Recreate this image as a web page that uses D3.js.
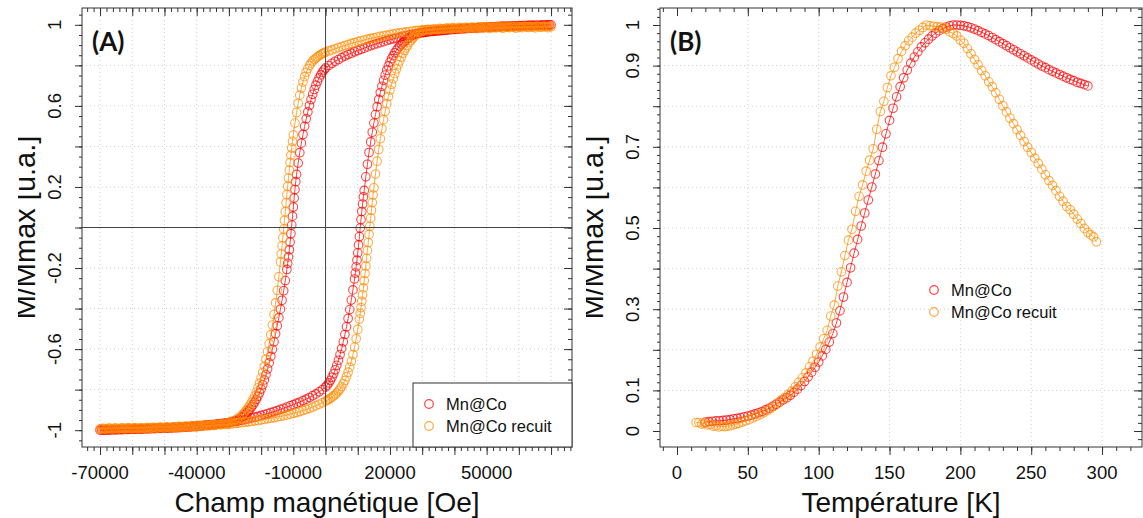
<!DOCTYPE html>
<html>
<head>
<meta charset="utf-8">
<script src="https://cdn.jsdelivr.net/npm/d3@7"></script>
<style>
body { margin: 0; background: #fff; }
text { font-family: "Liberation Sans", Arial, sans-serif; fill: #111; }
</style>
</head>
<body>
<script>

// ---- panel A : hysteresis loops, [field (kOe), M/Mmax] ----
var redDown = [
[70,1.000],[69,1.000],[68,0.999],[67,0.999],[66,0.998],[65,0.998],[64,0.997],[63,0.997],[62,0.996],[61,0.996],[60,0.995],[59,0.994],[58,0.994],[57,0.993],[56,0.993],[55,0.992],[54,0.991],[53,0.991],[52,0.990],[51,0.989],[50,0.988],[49,0.987],[48,0.986],[47,0.985],[46,0.984],[45,0.983],[44,0.982],[43,0.981],[42,0.980],[41,0.979],[40,0.978],[39,0.976],[38,0.975],[37,0.973],[36,0.972],[35,0.970],[34,0.969],[33,0.967],[32,0.965],[31,0.963],
[30,0.961],[29,0.958],[28,0.956],[27,0.953],[26,0.950],[25,0.947],[24,0.943],[23,0.939],[22,0.935],[21,0.931],[20,0.927],[19,0.922],[18,0.917],[17,0.912],[16,0.907],[15,0.902],[14,0.897],[13,0.891],[12,0.885],[11,0.879],[10,0.873],[9,0.867],[8,0.860],[7,0.853],[6,0.846],[5,0.838],[4,0.829],[3,0.820],[2,0.810],[1,0.799],
[0,0.787],[-0.5,0.777],[-1,0.766],[-1.5,0.753],[-2,0.738],[-2.5,0.721],[-3,0.702],[-3.5,0.681],[-4,0.657],[-4.5,0.631],[-5,0.602],[-5.5,0.570],[-6,0.536],[-6.5,0.499],[-7,0.459],[-7.5,0.416],[-8,0.369],[-8.5,0.318],[-9,0.262],[-9.25,0.226],[-9.5,0.187],[-9.75,0.145],[-10,0.101],[-10.25,0.056],[-10.5,0.012],[-10.75,-0.031],[-11,-0.072],[-11.25,-0.110],[-11.5,-0.145],[-11.75,-0.177],[-12,-0.207],[-12.5,-0.262],[-13,-0.312],[-13.5,-0.359],[-14,-0.403],[-14.5,-0.445],[-15,-0.485],[-15.5,-0.524],[-16,-0.564],[-16.5,-0.601],[-17,-0.636],[-17.5,-0.668],[-18,-0.698],[-18.5,-0.726],[-19,-0.752],[-19.5,-0.776],[-20,-0.797],[-20.5,-0.816],[-21,-0.833],[-21.5,-0.848],[-22,-0.862],[-22.5,-0.875],[-23,-0.886],[-23.5,-0.897],[-24,-0.906],[-24.5,-0.915],[-25,-0.923],[-25.5,-0.930],[-26,-0.936],[-27,-0.946],[-28,-0.953],[-29,-0.958],[-30,-0.962],
[-31,-0.964],[-32,-0.967],[-33,-0.969],[-34,-0.972],[-35,-0.974],[-36,-0.976],[-37,-0.977],[-38,-0.979],[-39,-0.980],[-40,-0.982],[-41,-0.983],[-42,-0.984],[-43,-0.985],[-44,-0.986],[-45,-0.987],[-46,-0.988],[-47,-0.988],[-48,-0.989],[-49,-0.990],[-50,-0.990],[-51,-0.991],[-52,-0.991],[-53,-0.992],[-54,-0.992],[-55,-0.993],[-56,-0.993],[-57,-0.994],[-58,-0.994],[-59,-0.995],[-60,-0.995],[-61,-0.996],[-62,-0.996],[-63,-0.997],[-64,-0.997],[-65,-0.998],[-66,-0.998],[-67,-0.999],[-68,-0.999],[-69,-1.000],[-70,-1.000]
];
var redUp = [
[-69.5,-1.000],[-68.5,-0.999],[-67.5,-0.999],[-66.5,-0.998],[-65.5,-0.998],[-64.5,-0.997],[-63.5,-0.997],[-62.5,-0.996],[-61.5,-0.996],[-60.5,-0.995],[-59.5,-0.995],[-58.5,-0.994],[-57.5,-0.994],[-56.5,-0.993],[-55.5,-0.993],[-54.5,-0.992],[-53.5,-0.991],[-52.5,-0.991],[-51.5,-0.990],[-50.5,-0.990],[-49.5,-0.989],[-48.5,-0.988],[-47.5,-0.987],[-46.5,-0.986],[-45.5,-0.985],[-44.5,-0.984],[-43.5,-0.983],[-42.5,-0.982],[-41.5,-0.981],[-40.5,-0.980],[-39.5,-0.978],[-38.5,-0.977],[-37.5,-0.975],[-36.5,-0.974],[-35.5,-0.972],[-34.5,-0.971],[-33.5,-0.969],[-32.5,-0.968],[-31.5,-0.966],[-30.5,-0.964],
[-30,-0.963],[-29,-0.960],[-28,-0.957],[-27,-0.954],[-26,-0.951],[-25,-0.948],[-24,-0.944],[-23,-0.940],[-22,-0.936],[-21,-0.932],[-20,-0.927],[-19,-0.923],[-18,-0.918],[-17,-0.913],[-16,-0.908],[-15,-0.903],[-14,-0.897],[-13,-0.892],[-12,-0.886],[-11,-0.880],[-10,-0.874],[-9,-0.867],[-8,-0.861],[-7,-0.854],[-6,-0.847],[-5,-0.839],[-4,-0.830],[-3,-0.821],[-2,-0.811],[-1,-0.800],
[0,-0.787],[0.5,-0.778],[1,-0.767],[1.5,-0.754],[2,-0.739],[2.5,-0.722],[3,-0.702],[3.5,-0.680],[4,-0.655],[4.5,-0.627],[5,-0.597],[5.5,-0.564],[6,-0.528],[6.5,-0.490],[7,-0.449],[7.5,-0.405],[8,-0.358],[8.5,-0.308],[9,-0.254],[9.25,-0.225],[9.5,-0.194],[9.75,-0.161],[10,-0.125],[10.25,-0.086],[10.5,-0.045],[10.75,-0.003],[11,0.039],[11.25,0.079],[11.5,0.116],[11.75,0.151],[12,0.183],[12.5,0.250],[13,0.312],[13.5,0.370],[14,0.422],[14.5,0.470],[15,0.515],[15.5,0.557],[16,0.596],[16.5,0.632],[17,0.666],[17.5,0.697],[18,0.726],[18.5,0.752],[19,0.776],[19.5,0.797],[20,0.816],[20.5,0.833],[21,0.848],[21.5,0.862],[22,0.874],[22.5,0.885],[23,0.895],[23.5,0.904],[24,0.912],[24.5,0.919],[25,0.926],[25.5,0.932],[26,0.938],[27,0.947],[28,0.954],[29,0.959],[30,0.962],
[30.5,0.963],[31.5,0.965],[32.5,0.967],[33.5,0.968],[34.5,0.970],[35.5,0.971],[36.5,0.973],[37.5,0.974],[38.5,0.976],[39.5,0.977],[40.5,0.978],[41.5,0.980],[42.5,0.981],[43.5,0.982],[44.5,0.983],[45.5,0.984],[46.5,0.985],[47.5,0.986],[48.5,0.987],[49.5,0.988],[50.5,0.989],[51.5,0.990],[52.5,0.990],[53.5,0.991],[54.5,0.992],[55.5,0.992],[56.5,0.993],[57.5,0.994],[58.5,0.994],[59.5,0.995],[60.5,0.995],[61.5,0.996],[62.5,0.996],[63.5,0.997],[64.5,0.997],[65.5,0.998],[66.5,0.998],[67.5,0.999],[68.5,0.999],[69.5,1.000]
];
var orangeDown = [
[70,0.990],[69,0.986],[68,0.992],[67,0.988],[66,0.991],[65,0.985],[64,0.990],[63,0.987],[62,0.992],[61,0.986],[60,0.989],[59,0.984],[58,0.990],[57,0.986],[56,0.988],[55,0.983],[54,0.989],[53,0.985],[52,0.987],[51,0.982],[50,0.988],[49,0.984],[48,0.986],[47,0.981],[46,0.986],[45,0.982],[44,0.985],[43,0.980],[42,0.984],[41,0.980],[40,0.983],[39,0.979],[38,0.982],[37,0.978],[36,0.980],[35,0.977],[34,0.979],[33,0.976],[32,0.978],[31,0.975],
[30,0.975],[29,0.973],[28,0.971],[27,0.969],[26,0.967],[25,0.965],[24,0.963],[23,0.960],[22,0.958],[21,0.955],[20,0.952],[19,0.949],[18,0.946],[17,0.943],[16,0.940],[15,0.936],[14,0.933],[13,0.929],[12,0.925],[11,0.921],[10,0.917],[9,0.912],[8,0.908],[7,0.903],[6,0.898],[5,0.893],[4,0.888],[3,0.882],[2,0.876],[1,0.871],
[0,0.866],[-0.5,0.862],[-1,0.858],[-1.5,0.853],[-2,0.848],[-2.5,0.842],[-3,0.836],[-3.5,0.829],[-4,0.821],[-4.5,0.811],[-5,0.799],[-5.5,0.784],[-6,0.766],[-6.5,0.744],[-7,0.718],[-7.5,0.688],[-8,0.653],[-8.5,0.613],[-9,0.567],[-9.5,0.515],[-10,0.457],[-10.25,0.425],[-10.5,0.392],[-10.75,0.357],[-11,0.321],[-11.25,0.283],[-11.5,0.244],[-11.75,0.204],[-12,0.163],[-12.25,0.121],[-12.5,0.078],[-12.75,0.035],[-13,-0.008],[-13.25,-0.050],[-13.5,-0.091],[-13.75,-0.131],[-14,-0.170],[-14.5,-0.243],[-15,-0.310],[-15.5,-0.372],[-16,-0.429],[-16.5,-0.481],[-17,-0.529],[-17.5,-0.573],[-18,-0.613],[-18.5,-0.650],[-19,-0.684],[-19.5,-0.715],[-20,-0.743],[-20.5,-0.768],[-21,-0.791],[-21.5,-0.812],[-22,-0.831],[-22.5,-0.848],[-23,-0.863],[-23.5,-0.877],[-24,-0.889],[-24.5,-0.900],[-25,-0.910],[-25.5,-0.919],[-26,-0.927],[-27,-0.940],[-28,-0.950],[-29,-0.957],[-30,-0.962],
[-31,-0.965],[-32,-0.969],[-33,-0.970],[-34,-0.974],[-35,-0.973],[-36,-0.977],[-37,-0.976],[-38,-0.980],[-39,-0.978],[-40,-0.982],[-41,-0.980],[-42,-0.984],[-43,-0.981],[-44,-0.985],[-45,-0.983],[-46,-0.987],[-47,-0.984],[-48,-0.988],[-49,-0.985],[-50,-0.989],[-51,-0.986],[-52,-0.990],[-53,-0.987],[-54,-0.991],[-55,-0.987],[-56,-0.991],[-57,-0.988],[-58,-0.992],[-59,-0.988],[-60,-0.992],[-61,-0.989],[-62,-0.993],[-63,-0.989],[-64,-0.993],[-65,-0.990],[-66,-0.994],[-67,-0.990],[-68,-0.994],[-69,-0.991],[-70,-0.994]
];
var orangeUp = [
[-69.5,-0.992],[-68.5,-0.996],[-67.5,-0.991],[-66.5,-0.995],[-65.5,-0.990],[-64.5,-0.994],[-63.5,-0.990],[-62.5,-0.994],[-61.5,-0.989],[-60.5,-0.993],[-59.5,-0.989],[-58.5,-0.992],[-57.5,-0.988],[-56.5,-0.992],[-55.5,-0.987],[-54.5,-0.991],[-53.5,-0.986],[-52.5,-0.990],[-51.5,-0.985],[-50.5,-0.989],[-49.5,-0.984],[-48.5,-0.988],[-47.5,-0.983],[-46.5,-0.987],[-45.5,-0.981],[-44.5,-0.985],[-43.5,-0.980],[-42.5,-0.983],[-41.5,-0.978],[-40.5,-0.982],[-39.5,-0.977],[-38.5,-0.980],[-37.5,-0.975],[-36.5,-0.978],[-35.5,-0.974],[-34.5,-0.976],[-33.5,-0.972],[-32.5,-0.974],[-31.5,-0.970],[-30.5,-0.972],
[-30,-0.970],[-29,-0.969],[-28,-0.967],[-27,-0.965],[-26,-0.963],[-25,-0.961],[-24,-0.959],[-23,-0.957],[-22,-0.954],[-21,-0.952],[-20,-0.949],[-19,-0.947],[-18,-0.944],[-17,-0.941],[-16,-0.938],[-15,-0.935],[-14,-0.932],[-13,-0.929],[-12,-0.925],[-11,-0.921],[-10,-0.917],[-9,-0.913],[-8,-0.908],[-7,-0.903],[-6,-0.898],[-5,-0.892],[-4,-0.886],[-3,-0.879],[-2,-0.872],[-1,-0.865],
[0,-0.857],[0.5,-0.853],[1,-0.848],[1.5,-0.843],[2,-0.837],[2.5,-0.831],[3,-0.824],[3.5,-0.816],[4,-0.807],[4.5,-0.797],[5,-0.785],[5.5,-0.771],[6,-0.755],[6.5,-0.736],[7,-0.714],[7.5,-0.689],[8,-0.660],[8.5,-0.627],[9,-0.590],[9.5,-0.549],[10,-0.503],[10.5,-0.452],[10.75,-0.424],[11,-0.395],[11.25,-0.364],[11.5,-0.332],[11.75,-0.298],[12,-0.263],[12.25,-0.227],[12.5,-0.190],[12.75,-0.152],[13,-0.113],[13.25,-0.074],[13.5,-0.034],[13.75,0.006],[14,0.046],[14.25,0.085],[14.5,0.123],[14.75,0.160],[15,0.196],[15.5,0.264],[16,0.327],[16.5,0.385],[17,0.438],[17.5,0.487],[18,0.532],[18.5,0.573],[19,0.611],[19.5,0.646],[20,0.678],[20.5,0.707],[21,0.734],[21.5,0.759],[22,0.782],[22.5,0.803],[23,0.822],[23.5,0.841],[24,0.860],[24.5,0.873],[25,0.886],[25.5,0.899],[26,0.912],[26.5,0.922],[27,0.932],[27.5,0.941],[28,0.949],[29,0.962],[30,0.970],
[30.5,0.972],[31.5,0.976],[32.5,0.975],[33.5,0.979],[34.5,0.978],[35.5,0.982],[36.5,0.980],[37.5,0.984],[38.5,0.982],[39.5,0.986],[40.5,0.983],[41.5,0.987],[42.5,0.984],[43.5,0.988],[44.5,0.985],[45.5,0.989],[46.5,0.985],[47.5,0.990],[48.5,0.986],[49.5,0.990],[50.5,0.987],[51.5,0.991],[52.5,0.987],[53.5,0.991],[54.5,0.988],[55.5,0.992],[56.5,0.988],[57.5,0.992],[58.5,0.989],[59.5,0.993],[60.5,0.989],[61.5,0.993],[62.5,0.989],[63.5,0.993],[64.5,0.990],[65.5,0.994],[66.5,0.990],[67.5,0.993],[68.5,0.990],[69.5,0.993]
];

// ---- panel B : M/Mmax vs temperature, [T (K), M/Mmax] ----
var redTemp = [
[20,0.022],[22.5,0.023],[25,0.024],[27.5,0.025],[30,0.025],[32.5,0.026],[35,0.027],[37.5,0.028],[40,0.030],[42.5,0.031],[45,0.033],[47.5,0.035],[50,0.037],[52.5,0.039],[55,0.042],[57.5,0.045],[60,0.048],[62.5,0.052],[65,0.056],[67.5,0.061],[70,0.066],[72.5,0.071],[75,0.077],[77.5,0.082],[80,0.088],[82.5,0.095],[85,0.103],[87.5,0.112],[90,0.122],[92.5,0.133],[95,0.145],[97.5,0.157],[100,0.170],[102.5,0.185],[105,0.201],[107.5,0.219],[110,0.240],[112.5,0.266],[115,0.296],[117.5,0.330],[120,0.366],[122.5,0.402],[125,0.438],[127.5,0.472],[130,0.505],[132.5,0.537],[135,0.569],[137.5,0.601],[140,0.633],[142.5,0.666],[145,0.699],[147.5,0.732],[150,0.765],[152.5,0.795],[155,0.823],[157.5,0.848],[160,0.870],[162.5,0.889],[165,0.906],[167.5,0.921],[170,0.934],[172.5,0.946],[175,0.956],[177.5,0.965],[180,0.973],[182.5,0.980],[185,0.986],[187.5,0.991],[190,0.995],[192.5,0.998],[195,1.000],[197.5,1.000],[200,0.999],[202.5,0.998],[205,0.996],[207.5,0.993],[210,0.990],[212.5,0.986],[215,0.982],[217.5,0.978],[220,0.974],[222.5,0.969],[225,0.964],[227.5,0.959],[230,0.954],[232.5,0.949],[235,0.944],[237.5,0.939],[240,0.934],[242.5,0.929],[245,0.924],[247.5,0.919],[250,0.914],[252.5,0.909],[255,0.904],[257.5,0.899],[260,0.895],[262.5,0.890],[265,0.886],[267.5,0.882],[270,0.878],[272.5,0.874],[275,0.870],[277.5,0.866],[280,0.863],[282.5,0.859],[285,0.856],[287.5,0.853],[290,0.850]
];
var orangeTemp = [
[13.5,0.021],[15.5,0.021],[17.5,0.017],[19.5,0.019],[21.5,0.015],[23.5,0.016],[25.5,0.012],[27.5,0.013],[29.5,0.010],[31.5,0.012],[33.5,0.011],[35.5,0.012],[37.5,0.013],[39.5,0.015],[41.5,0.017],[43.5,0.019],[46,0.022],[48.5,0.025],[51,0.028],[53.5,0.032],[56,0.036],[58.5,0.040],[61,0.045],[63.5,0.050],[66,0.055],[68.5,0.061],[71,0.068],[73.5,0.076],[76,0.082],[78.5,0.090],[81,0.098],[83.5,0.109],[86,0.120],[88.5,0.131],[91,0.143],[93.5,0.158],[96,0.172],[98.5,0.189],[101,0.207],[103.5,0.227],[106,0.248],[108.5,0.283],[111,0.310],[113.5,0.357],[116,0.392],[118.5,0.432],[121,0.470],[123.5,0.497],[126,0.541],[128.5,0.578],[131,0.606],[133.5,0.640],[136,0.667],[138.5,0.695],[141,0.743],[143.5,0.787],[146,0.812],[148.5,0.846],[151,0.875],[153.5,0.896],[156,0.917],[158.5,0.935],[161,0.949],[163.5,0.961],[166,0.970],[168.5,0.980],[171,0.987],[173.5,0.994],[176,1.000],[178.5,0.998],[181,0.997],[183.5,0.996],[186,0.995],[188,0.992],[190,0.990],[192.5,0.983],[195,0.979],[197.5,0.973],[200,0.963],[202.5,0.955],[205,0.942],[207.5,0.929],[210,0.915],[212.5,0.902],[215,0.888],[217.5,0.875],[220,0.860],[222.5,0.848],[225,0.833],[227.5,0.817],[230,0.801],[232.5,0.786],[235,0.771],[237.5,0.757],[240,0.742],[242.5,0.728],[245,0.713],[247.5,0.699],[250,0.686],[252.5,0.672],[255,0.659],[257.5,0.645],[260,0.631],[262.5,0.617],[265,0.605],[267.5,0.592],[270,0.578],[272.5,0.566],[275,0.553],[277.5,0.545],[280,0.534],[282.5,0.522],[285,0.511],[287.5,0.499],[290,0.489],[292,0.483],[294,0.478],[296,0.466]
];

// ---- ticks and labels ----
var fieldTicks = [-70000,-60000,-50000,-40000,-30000,-20000,-10000,0,10000,20000,30000,40000,50000,60000,70000];
var fieldLabels = [-70000,-40000,-10000,20000,50000];
var magTicksA = [-1,-0.8,-0.6,-0.4,-0.2,0,0.2,0.4,0.6,0.8,1];
var magLabelsA = [-1,-0.6,-0.2,0.2,0.6,1];
var tempTicks = [0,50,100,150,200,250,300];
var magTicksB = [0,0.1,0.2,0.3,0.4,0.5,0.6,0.7,0.8,0.9,1];
var magLabelsB = [0,0.1,0.3,0.5,0.7,0.9,1];
var seriesNames = ["Mn@Co", "Mn@Co recuit"];
var colors = ["#ff0000", "#ff8c00"];

var w = 1143, h = 518;

var svg = d3.select("body").append("svg")
  .attr("width", w)
  .attr("height", h);

var defs = svg.append("defs");

// scales (box edges)
var xA = d3.scaleLinear().domain([-75600, 76500]).range([82, 572]);
var yA = d3.scaleLinear().domain([-1.083, 1.083]).range([447, 8]);
var xB = d3.scaleLinear().domain([-12, 328.2]).range([660, 1142]);
var yB = d3.scaleLinear().domain([-0.0394, 1.0419]).range([447, 8]);

function fmt(d) { return String(d); }

function frame(x, y, p) {
  var x0 = x.range()[0], x1 = x.range()[1], y0 = y.range()[1], y1 = y.range()[0];
  var g = svg.append("g");

  // dotted grid
  g.selectAll(".gx").data(p.gridX).enter().append("line")
    .attr("x1", d => x(d)).attr("x2", d => x(d))
    .attr("y1", y0).attr("y2", y1)
    .attr("stroke", "#cfcfcf").attr("stroke-dasharray", "1,3");
  g.selectAll(".gy").data(p.gridY).enter().append("line")
    .attr("x1", x0).attr("x2", x1)
    .attr("y1", d => y(d)).attr("y2", d => y(d))
    .attr("stroke", "#cfcfcf").attr("stroke-dasharray", "1,3");

  var axes = [
    [d3.axisBottom(x).tickValues(p.xMinor).tickSize(4), "translate(0," + y1 + ")"],
    [d3.axisBottom(x).tickValues(p.xMajor).tickSize(8), "translate(0," + y1 + ")"],
    [d3.axisTop(x).tickValues(p.xMinor).tickSize(-4), "translate(0," + y0 + ")"],
    [d3.axisTop(x).tickValues(p.xMajor).tickSize(-8), "translate(0," + y0 + ")"],
    [d3.axisLeft(y).tickValues(p.yMinor).tickSize(3), "translate(" + x0 + ",0)"],
    [d3.axisLeft(y).tickValues(p.yMajor).tickSize(7), "translate(" + x0 + ",0)"],
    [d3.axisRight(y).tickValues(p.yMinor).tickSize(-4), "translate(" + x1 + ",0)"],
    [d3.axisRight(y).tickValues(p.yMajor).tickSize(-8), "translate(" + x1 + ",0)"]
  ];
  axes.forEach(function(a) {
    var ag = g.append("g").attr("transform", a[1]).call(a[0].tickFormat(""));
    ag.select(".domain").remove();
    ag.selectAll("line").attr("stroke", "#333");
  });

  // x tick labels
  g.selectAll(".xl").data(p.xLabels).enter().append("text")
    .attr("x", d => x(d)).attr("y", y1 + 32)
    .attr("text-anchor", "middle").attr("font-size", 18.5)
    .text(fmt);
  // y tick labels, rotated like R's default
  g.selectAll(".yl").data(p.yLabels).enter().append("text")
    .attr("transform", d => "translate(" + (x0 - 21) + "," + y(d) + ") rotate(-90)")
    .attr("text-anchor", "middle").attr("font-size", 18.5)
    .text(fmt);

  g.append("rect")
    .attr("x", x0).attr("y", y0)
    .attr("width", x1 - x0).attr("height", y1 - y0)
    .attr("fill", "none").attr("stroke", "#333");

  g.append("text")
    .attr("x", (x0 + x1) / 2).attr("y", 512)
    .attr("text-anchor", "middle").attr("font-size", 28)
    .text(p.xTitle);

  // y title, its left part cut off as in the source figure
  defs.append("clipPath").attr("id", p.clipId)
    .append("rect")
    .attr("x", p.yTitleX - 17).attr("y", 0)
    .attr("width", 40).attr("height", h);
  g.append("g").attr("clip-path", "url(#" + p.clipId + ")")
    .append("text")
    .attr("transform", "translate(" + p.yTitleX + "," + ((y0 + y1) / 2) + ") rotate(-90)")
    .attr("text-anchor", "middle").attr("font-size", 29)
    .text("M/Mmax [u.a.]");

  g.append("text")
    .attr("x", x0 + 10).attr("y", 51)
    .attr("font-weight", "bold").attr("font-size", 26)
    .style("font-family", "Lato, 'Open Sans', sans-serif")
    .text(p.tag);
  return g;
}

function series(g, data, x, y, color, k) {
  var line = d3.line().x(d => x(d[0] * k)).y(d => y(d[1]));
  g.append("path").datum(data)
    .attr("d", line)
    .attr("fill", "none").attr("stroke", color)
    .attr("stroke-opacity", 0.75).attr("stroke-width", 1);
  g.selectAll(null).data(data).enter().append("circle")
    .attr("cx", d => x(d[0] * k)).attr("cy", d => y(d[1]))
    .attr("r", 4.3)
    .attr("fill", "none").attr("stroke", color)
    .attr("stroke-opacity", 0.72).attr("stroke-width", 1.1);
}

function legend(g, x, y) {
  seriesNames.forEach(function(name, i) {
    g.append("circle")
      .attr("cx", x).attr("cy", y + i * 22).attr("r", 4.3)
      .attr("fill", "none").attr("stroke", colors[i])
      .attr("stroke-opacity", 0.75).attr("stroke-width", 1.2);
    g.append("text")
      .attr("x", x + 17).attr("y", y + i * 22 + 6)
      .attr("font-size", 16.5)
      .text(name);
  });
}

// ---- panel A ----
var gA = frame(xA, yA, {
  gridX: fieldTicks.filter(d => d !== 0),
  gridY: [-0.8,-0.6,-0.4,-0.2,0.2,0.4,0.6,0.8],
  xMajor: fieldTicks, xMinor: d3.range(-74000, 76001, 2000),
  yMajor: magTicksA, yMinor: d3.range(-1.05, 1.0501, 0.05),
  xLabels: fieldLabels, yLabels: magLabelsA,
  xTitle: "Champ magnétique [Oe]", yTitleX: 35, clipId: "clipA", tag: "(A)"
});
var dA = gA.append("g");
series(dA, redDown.concat(redUp), xA, yA, colors[0], 1000);
series(dA, orangeDown.concat(orangeUp), xA, yA, colors[1], 1000);

gA.append("line")
  .attr("x1", xA(0)).attr("x2", xA(0)).attr("y1", 8).attr("y2", 447)
  .attr("stroke", "#444");
gA.append("line")
  .attr("x1", 82).attr("x2", 572).attr("y1", yA(0)).attr("y2", yA(0))
  .attr("stroke", "#444");

gA.append("rect")
  .attr("x", 413).attr("y", 383).attr("width", 159).attr("height", 64)
  .attr("fill", "#fff").attr("stroke", "#333");
legend(gA, 429, 404);

// ---- panel B ----
var gB = frame(xB, yB, {
  gridX: [50,100,150,200,250,300],
  gridY: [0.1,0.2,0.3,0.4,0.5,0.6,0.7,0.8,0.9],
  xMajor: tempTicks, xMinor: d3.range(-10, 330, 10),
  yMajor: magTicksB, yMinor: d3.range(-0.02, 1.041, 0.02),
  xLabels: tempTicks, yLabels: magLabelsB,
  xTitle: "Température [K]", yTitleX: 603, clipId: "clipB", tag: "(B)"
});
var dB = gB.append("g");
series(dB, redTemp, xB, yB, colors[0], 1);
series(dB, orangeTemp, xB, yB, colors[1], 1);
legend(gB, 934, 290);

</script>
</body>
</html>
